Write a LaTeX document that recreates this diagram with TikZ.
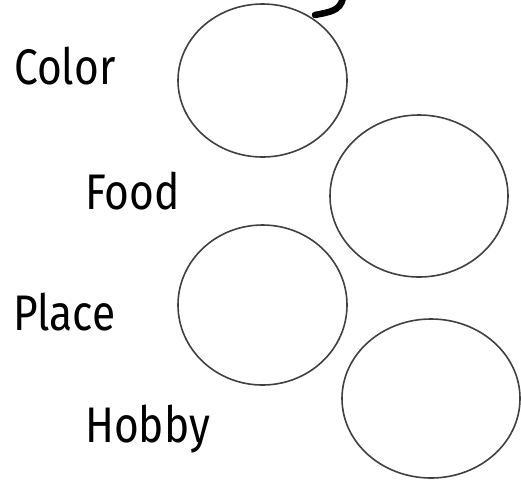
\documentclass[tikz,border=0pt]{standalone}
\usepackage{fontspec}
\setmainfont{Fira Sans}
\begin{document}
\begin{tikzpicture}[x=1pt,y=-1pt,
  bubble/.style={draw=black!75, line width=1.6pt},
  lbl/.style={anchor=base west, inner sep=0pt, font=\fontsize{50}{54}\selectfont, xscale=0.85}]
\useasboundingbox (0,0) rectangle (521,483);
\fill[white] (0,0) rectangle (521,483);
\draw[bubble] (262.5,80.5) ellipse [x radius=84.5, y radius=76.5];
\draw[bubble] (419,196) ellipse [x radius=89, y radius=81];
\draw[bubble] (262.5,305) ellipse [x radius=84.5, y radius=80];
\draw[bubble] (431,398.5) ellipse [x radius=89, y radius=79.5];
\coordinate (s1) at (343,-2);
\coordinate (s2) at (315,15);
\draw[line width=6.5pt, line cap=round] (s1) .. controls (340,11) and (330,12) .. (s2);
\node[lbl] (color) at (14,84) {Color};
\node[lbl] (food) at (85,209) {Food};
\node[lbl] (place) at (13,330) {Place};
\node[lbl] (hobby) at (85,442) {Hobby};
\end{tikzpicture}
\end{document}
